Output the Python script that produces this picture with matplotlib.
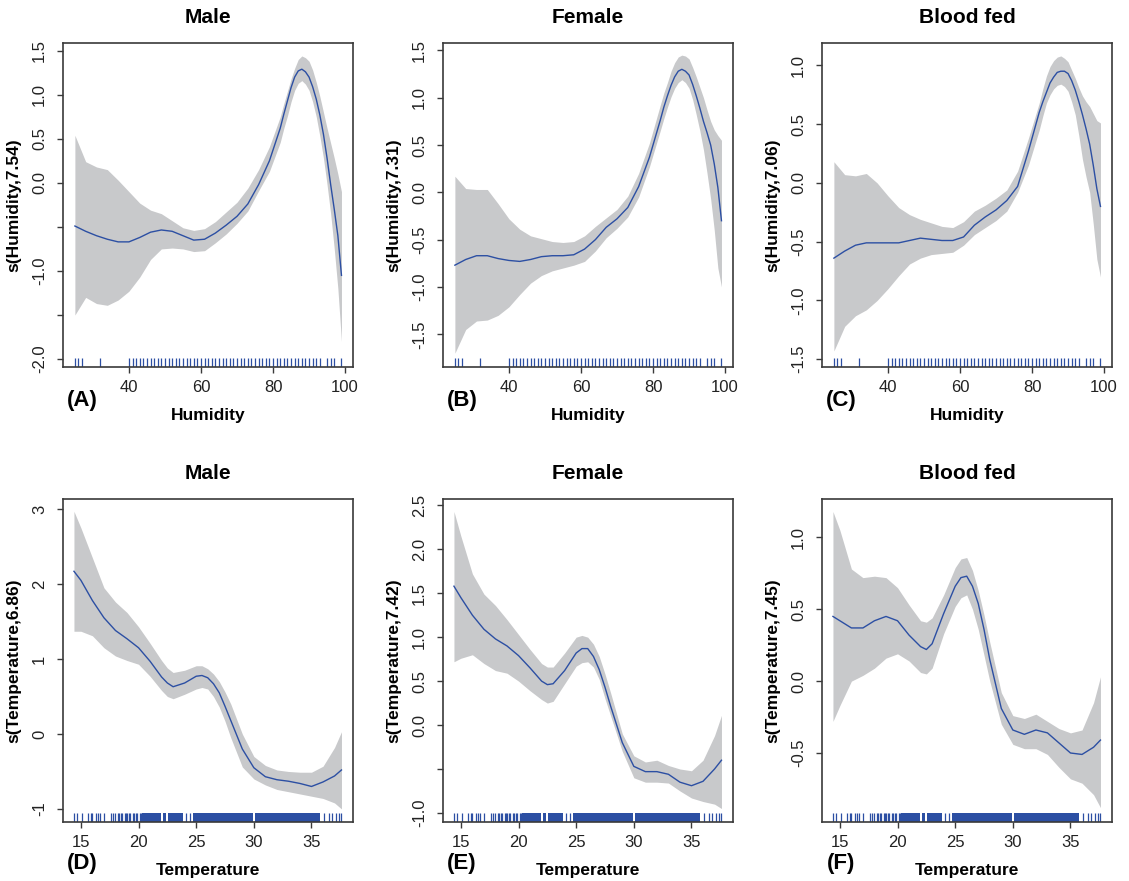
import matplotlib
matplotlib.use('Agg')
import matplotlib.pyplot as plt

plt.rcParams['font.family'] = ['Liberation Sans', 'DejaVu Sans']

# ---- humidity smooths (top row) ----
hum_x = [25, 28, 31, 34, 37, 40, 43, 46, 49, 52, 55, 58, 61, 64, 67, 70, 73, 76, 79,
         82, 83, 84, 85, 86, 87, 88, 89, 90, 91, 92, 93, 94, 95, 96, 97, 98, 99]

male_hum_fit = [-0.49, -0.55, -0.60, -0.64, -0.67, -0.67, -0.62, -0.56, -0.535, -0.55,
                -0.60, -0.65, -0.64, -0.57, -0.48, -0.38, -0.24, -0.02, 0.25,
                0.62, 0.78, 0.93, 1.08, 1.20, 1.27, 1.29, 1.26, 1.20, 1.09, 0.95,
                0.77, 0.55, 0.28, -0.02, -0.30, -0.60, -1.05]
male_hum_hi = [0.54, 0.24, 0.18, 0.15, 0.03, -0.10, -0.23, -0.31, -0.35, -0.43,
               -0.51, -0.54, -0.52, -0.44, -0.33, -0.22, -0.06, 0.15, 0.41,
               0.75, 0.90, 1.04, 1.18, 1.30, 1.40, 1.44, 1.42, 1.38, 1.28, 1.14,
               0.98, 0.80, 0.62, 0.45, 0.28, 0.10, -0.10]
male_hum_lo = [-1.50, -1.30, -1.37, -1.39, -1.33, -1.23, -1.07, -0.87, -0.75, -0.74,
               -0.75, -0.78, -0.77, -0.68, -0.58, -0.46, -0.32, -0.09, 0.13,
               0.46, 0.62, 0.76, 0.92, 1.05, 1.13, 1.16, 1.12, 1.05, 0.92, 0.75,
               0.53, 0.28, -0.02, -0.35, -0.75, -1.20, -1.80]

female_hum_fit = [-0.77, -0.71, -0.67, -0.67, -0.70, -0.72, -0.73, -0.71, -0.68, -0.67,
                  -0.67, -0.66, -0.60, -0.50, -0.37, -0.28, -0.16, 0.06, 0.37,
                  0.76, 0.90, 1.02, 1.13, 1.22, 1.28, 1.30, 1.28, 1.24, 1.14, 1.02,
                  0.89, 0.75, 0.63, 0.50, 0.30, 0.05, -0.30]
female_hum_hi = [0.17, 0.04, 0.03, 0.03, -0.12, -0.28, -0.39, -0.46, -0.49, -0.52,
                 -0.53, -0.52, -0.46, -0.36, -0.27, -0.18, -0.04, 0.20, 0.52,
                 0.92, 1.05, 1.16, 1.28, 1.37, 1.43, 1.45, 1.44, 1.41, 1.32, 1.22,
                 1.11, 1.00, 0.87, 0.75, 0.66, 0.60, 0.55]
female_hum_lo = [-1.70, -1.45, -1.36, -1.35, -1.30, -1.21, -1.08, -0.96, -0.88, -0.83,
                 -0.80, -0.77, -0.73, -0.62, -0.48, -0.38, -0.26, -0.05, 0.27,
                 0.65, 0.78, 0.90, 1.01, 1.10, 1.16, 1.19, 1.16, 1.10, 0.98, 0.82,
                 0.65, 0.45, 0.20, -0.07, -0.40, -0.80, -1.00]

fed_hum_fit = [-0.64, -0.58, -0.53, -0.51, -0.51, -0.51, -0.51, -0.49, -0.47, -0.48,
               -0.49, -0.49, -0.46, -0.36, -0.29, -0.23, -0.15, -0.03, 0.27,
               0.60, 0.69, 0.77, 0.85, 0.90, 0.94, 0.95, 0.95, 0.93, 0.87, 0.79,
               0.69, 0.58, 0.46, 0.33, 0.15, -0.05, -0.20]
fed_hum_hi = [0.18, 0.07, 0.06, 0.08, 0.00, -0.11, -0.21, -0.27, -0.31, -0.34,
              -0.37, -0.38, -0.33, -0.24, -0.19, -0.13, -0.06, 0.10, 0.38,
              0.68, 0.80, 0.91, 0.99, 1.04, 1.07, 1.08, 1.06, 1.03, 0.96, 0.89,
              0.81, 0.74, 0.69, 0.65, 0.59, 0.53, 0.51]
fed_hum_lo = [-1.43, -1.22, -1.13, -1.08, -1.00, -0.90, -0.79, -0.69, -0.64, -0.61,
              -0.60, -0.59, -0.53, -0.44, -0.38, -0.32, -0.24, -0.08, 0.15,
              0.45, 0.57, 0.68, 0.75, 0.80, 0.83, 0.84, 0.82, 0.78, 0.69, 0.58,
              0.40, 0.20, 0.05, -0.08, -0.35, -0.65, -0.80]

hum_rug = [25, 26, 27, 32, 40, 41, 42, 43, 44, 45, 46, 47, 48, 49, 50, 51, 52, 53,
           54, 55, 56, 57, 58, 59, 60, 61, 62, 63, 64, 65, 66, 67, 68, 69, 70, 71,
           72, 73, 74, 75, 76, 77, 78, 79, 80, 81, 82, 83, 84, 85, 86, 87, 88, 89,
           90, 91, 92, 93, 95, 96, 97, 99]

# ---- temperature smooths (bottom row) ----
tmp_x = [14.4, 15, 16, 17, 18, 19, 20, 21, 22, 22.5, 23, 24, 25, 25.5, 26, 26.5, 27,
         27.5, 28, 29, 30, 31, 32, 33, 34, 35, 36, 37, 37.6]

male_tmp_fit = [2.17, 2.05, 1.78, 1.55, 1.38, 1.27, 1.15, 0.97, 0.76, 0.68, 0.63, 0.68,
                0.77, 0.78, 0.75, 0.67, 0.55, 0.37, 0.18, -0.20, -0.45, -0.57, -0.61,
                -0.63, -0.66, -0.70, -0.64, -0.56, -0.48]
male_tmp_hi = [2.97, 2.75, 2.35, 1.95, 1.76, 1.62, 1.43, 1.21, 0.98, 0.88, 0.82, 0.85,
               0.91, 0.91, 0.87, 0.80, 0.70, 0.56, 0.40, 0.00, -0.30, -0.42, -0.48,
               -0.50, -0.51, -0.51, -0.43, -0.18, 0.03]
male_tmp_lo = [1.37, 1.37, 1.31, 1.15, 1.04, 0.98, 0.93, 0.77, 0.58, 0.50, 0.47, 0.53,
               0.60, 0.62, 0.60, 0.50, 0.36, 0.17, -0.05, -0.44, -0.60, -0.68, -0.74,
               -0.77, -0.80, -0.83, -0.86, -0.92, -1.00]

female_tmp_fit = [1.58, 1.45, 1.25, 1.09, 0.98, 0.90, 0.79, 0.65, 0.50, 0.46, 0.47, 0.62,
                  0.82, 0.87, 0.87, 0.78, 0.63, 0.43, 0.21, -0.20, -0.47, -0.53, -0.53,
                  -0.56, -0.65, -0.69, -0.64, -0.50, -0.40]
female_tmp_hi = [2.43, 2.15, 1.72, 1.49, 1.36, 1.20, 1.03, 0.86, 0.70, 0.66, 0.66, 0.82,
                 1.00, 1.02, 1.00, 0.92, 0.78, 0.58, 0.36, -0.10, -0.35, -0.42, -0.40,
                 -0.46, -0.50, -0.52, -0.40, -0.12, 0.11]
female_tmp_lo = [0.72, 0.76, 0.80, 0.70, 0.62, 0.59, 0.50, 0.39, 0.29, 0.25, 0.27, 0.47,
                 0.67, 0.71, 0.72, 0.66, 0.52, 0.30, 0.10, -0.30, -0.60, -0.65, -0.65,
                 -0.66, -0.75, -0.83, -0.87, -0.90, -0.95]

fed_tmp_fit = [0.45, 0.42, 0.37, 0.37, 0.42, 0.45, 0.42, 0.32, 0.24, 0.22, 0.26, 0.47,
               0.66, 0.72, 0.73, 0.66, 0.54, 0.36, 0.15, -0.19, -0.34, -0.37, -0.34,
               -0.36, -0.43, -0.50, -0.51, -0.46, -0.41]
fed_tmp_hi = [1.18, 1.05, 0.78, 0.72, 0.73, 0.72, 0.65, 0.53, 0.42, 0.41, 0.44, 0.60,
              0.79, 0.85, 0.86, 0.77, 0.63, 0.46, 0.27, -0.08, -0.24, -0.26, -0.23,
              -0.28, -0.33, -0.36, -0.34, -0.15, 0.03]
fed_tmp_lo = [-0.28, -0.17, 0.00, 0.04, 0.09, 0.16, 0.19, 0.14, 0.06, 0.05, 0.09, 0.33,
              0.52, 0.58, 0.60, 0.50, 0.36, 0.18, 0.00, -0.30, -0.44, -0.47, -0.47,
              -0.51, -0.60, -0.68, -0.71, -0.79, -0.88]

tmp_rug = [14.4, 14.7, 15.1, 15.6, 15.9, 16.0, 16.3, 16.5, 16.7, 17.0, 17.6, 17.8,
           18.0, 18.2, 18.3, 18.5, 18.6, 18.8, 18.9, 19.0, 19.2, 19.3, 19.5, 19.6,
           19.8, 19.9, 20.1, 20.2, 24.1, 24.5, 36.1, 36.5, 36.8, 37.1, 37.4, 37.6]
# stretches where the observations are so dense that the rug is solid
tmp_rug_dense = [(20.3, 21.95), (22.1, 22.4), (22.55, 23.9), (24.7, 29.95), (30.1, 35.7)]

BLUE = '#2c4fa3'
GREY = '#c8c9cb'
FRAME = '#3a3a3a'


def gam_panel(ax, x, fit, lo, hi, rug, dense, xlim, ylim, xticks, yticks, ylabs,
              title, xlab, ylab, letter, letter_y):
    ax.fill_between(x, lo, hi, color=GREY, lw=0)
    ax.plot(x, fit, color=BLUE, lw=1.0)
    tr = ax.get_xaxis_transform()
    ax.vlines(rug, 0, 0.028, transform=tr, color=BLUE, lw=0.9)
    for a, b in dense:
        ax.axvspan(a, b, ymin=0, ymax=0.028, color=BLUE, lw=0)
    ax.set_xlim(*xlim)
    ax.set_ylim(*ylim)
    ax.set_xticks(xticks)
    ax.set_xticklabels([str(t) for t in xticks])
    ax.set_yticks(yticks)
    ax.set_yticklabels(ylabs)
    plt.setp(ax.get_yticklabels(), rotation=90, va='center', ha='right')
    ax.tick_params(axis='both', direction='out', length=4.5, width=1.0,
                   color=FRAME, labelsize=12, labelcolor='#222222')
    ax.tick_params(axis='x', pad=5)
    ax.tick_params(axis='y', pad=7)
    for s in ax.spines.values():
        s.set_color(FRAME)
        s.set_linewidth(1.2)
    ax.text(0.5, 1.08, title, transform=ax.transAxes, ha='center', va='center',
            fontsize=15, fontweight='bold')
    ax.set_xlabel(xlab, fontsize=12.5, fontweight='bold')
    ax.xaxis.set_label_coords(0.5, -0.128)
    ax.set_ylabel(ylab, fontsize=12.5, fontweight='bold')
    ax.yaxis.set_label_coords(-0.143, 0.5)
    ax.text(0.066, letter_y, letter, transform=ax.transAxes, ha='center', va='center',
            fontsize=16, fontweight='bold')


fig = plt.figure(figsize=(11.29, 8.81), dpi=100)
W, H = 1129.0, 881.0
lefts = [63, 443, 822]
top_row = (43, 367)
bot_row = (499, 822)


def make_ax(left, row):
    t, b = row
    return fig.add_axes([left / W, 1 - b / H, 290 / W, (b - t) / H])


hum_xlim = (21.7, 102.2)
tmp_xlim = (13.45, 38.6)

ax = make_ax(lefts[0], top_row)
gam_panel(ax, hum_x, male_hum_fit, male_hum_lo, male_hum_hi, hum_rug, [],
          hum_xlim, (-2.09, 1.587), [40, 60, 80, 100],
          [-2.0, -1.5, -1.0, -0.5, 0.0, 0.5, 1.0, 1.5],
          ['-2.0', '', '-1.0', '', '0.0', '0.5', '1.0', '1.5'],
          'Male', 'Humidity', 's(Humidity,7.54)', '(A)', -0.102)

ax = make_ax(lefts[1], top_row)
gam_panel(ax, hum_x, female_hum_fit, female_hum_lo, female_hum_hi, hum_rug, [],
          hum_xlim, (-1.846, 1.578), [40, 60, 80, 100],
          [-1.5, -1.0, -0.5, 0.0, 0.5, 1.0, 1.5],
          ['-1.5', '-1.0', '-0.5', '0.0', '0.5', '1.0', '1.5'],
          'Female', 'Humidity', 's(Humidity,7.31)', '(B)', -0.102)

ax = make_ax(lefts[2], top_row)
gam_panel(ax, hum_x, fed_hum_fit, fed_hum_lo, fed_hum_hi, hum_rug, [],
          hum_xlim, (-1.566, 1.19), [40, 60, 80, 100],
          [-1.5, -1.0, -0.5, 0.0, 0.5, 1.0],
          ['-1.5', '-1.0', '-0.5', '0.0', '0.5', '1.0'],
          'Blood fed', 'Humidity', 's(Humidity,7.06)', '(C)', -0.102)

ax = make_ax(lefts[0], bot_row)
gam_panel(ax, tmp_x, male_tmp_fit, male_tmp_lo, male_tmp_hi, tmp_rug, tmp_rug_dense,
          tmp_xlim, (-1.174, 3.134), [15, 20, 25, 30, 35],
          [-1, 0, 1, 2, 3], ['-1', '0', '1', '2', '3'],
          'Male', 'Temperature', 's(Temperature,6.86)', '(D)', -0.128)

ax = make_ax(lefts[1], bot_row)
gam_panel(ax, tmp_x, female_tmp_fit, female_tmp_lo, female_tmp_hi, tmp_rug, tmp_rug_dense,
          tmp_xlim, (-1.103, 2.572), [15, 20, 25, 30, 35],
          [-1.0, -0.5, 0.0, 0.5, 1.0, 1.5, 2.0, 2.5],
          ['-1.0', '', '0.0', '0.5', '1.0', '1.5', '2.0', '2.5'],
          'Female', 'Temperature', 's(Temperature,7.42)', '(E)', -0.128)

ax = make_ax(lefts[2], bot_row)
gam_panel(ax, tmp_x, fed_tmp_fit, fed_tmp_lo, fed_tmp_hi, tmp_rug, tmp_rug_dense,
          tmp_xlim, (-0.98, 1.267), [15, 20, 25, 30, 35],
          [-0.5, 0.0, 0.5, 1.0], ['-0.5', '0.0', '0.5', '1.0'],
          'Blood fed', 'Temperature', 's(Temperature,7.45)', '(F)', -0.128)

fig.savefig('out.png', dpi=100)
